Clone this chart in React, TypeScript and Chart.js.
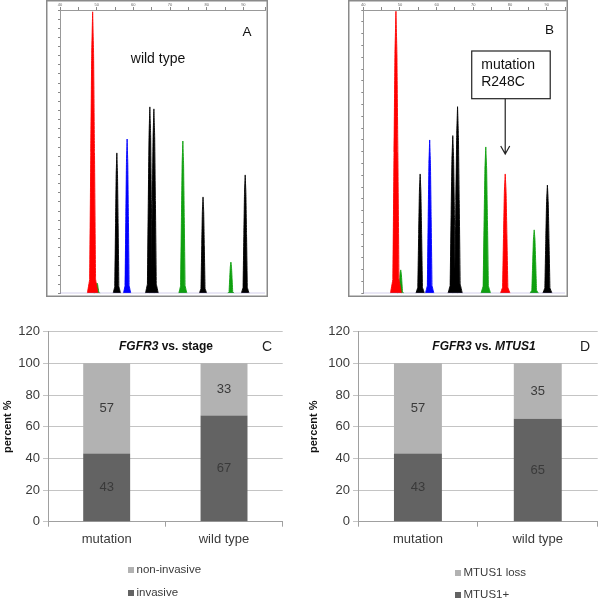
import React, { useEffect, useRef } from "react";
import { Chart, registerables } from "chart.js";

Chart.register(...registerables);

const FONT = "'Liberation Sans', Arial, sans-serif";
Chart.defaults.font.family = FONT;

// ---------- Panel A (wild type electropherogram) ----------
const peakPosA = [48.9, 50.1, 55.5, 58.3, 64.5, 65.6, 73.5, 79.0, 86.6, 90.5];
const peakHeightA = [15600, 570, 7780, 8550, 10330, 10220, 8440, 5340, 1730, 6560];
const peakWidthA = [1.45, 0.9, 1.0, 1.0, 1.2, 1.2, 1.1, 1.0, 0.9, 1.05];
const peakColorA = ["red", "green", "black", "blue", "black", "black", "green", "black", "green", "black"];

// ---------- Panel B (mutation R248C electropherogram) ----------
const peakPosB = [48.9, 50.2, 55.5, 58.1, 64.4, 65.7, 73.4, 78.7, 86.6, 90.2];
const peakHeightB = [11700, 970, 4950, 6360, 6540, 7740, 6070, 4950, 2630, 4490];
const peakWidthB = [1.5, 0.9, 1.15, 1.15, 1.3, 1.3, 1.3, 1.3, 1.15, 1.25];
const peakColorB = ["red", "green", "black", "blue", "black", "black", "green", "red", "green", "black"];
const mutationPeakPos = 78.7;

// ---------- Panels C and D (stacked bars) ----------
const categories = ["mutation", "wild type"];
const invasive = [43, 67];
const nonInvasive = [57, 33];
const mtus1Plus = [43, 65];
const mtus1Loss = [57, 35];

const COLOR_MAP: Record<string, string> = {
  red: "#ff0000",
  green: "#0fa00f",
  black: "#000000",
  blue: "#0000ff",
};
const LIGHT = "#b2b2b2";
const DARK = "#636363";

// peak outline: relative half-width at relative height
const SHAPE_W = [1, 0.55, 0.35, 0.18];
const SHAPE_H = [0, 0.05, 0.5, 0.85];

function peakDatasets(pos: number[], height: number[], width: number[], color: string[], xMax: number) {
  const peaks = pos.map((c, i) => {
    const h = height[i];
    const w = width[i];
    const col = COLOR_MAP[color[i]];
    const left = SHAPE_W.map((sw, k) => ({ x: c - sw * w, y: SHAPE_H[k] * h }));
    const right = SHAPE_W.map((sw, k) => ({ x: c + sw * w, y: SHAPE_H[k] * h })).reverse();
    return {
      data: [...left, { x: c, y: h }, ...right],
      borderColor: col,
      backgroundColor: col,
      borderWidth: 0.9,
      pointRadius: 0,
      fill: "origin",
      tension: 0.0001,
    };
  });
  const baseline = {
    data: [
      { x: 40, y: 0 },
      { x: xMax, y: 0 },
    ],
    borderColor: "rgba(130,120,200,0.7)",
    borderWidth: 1.2,
    pointRadius: 0,
    fill: false,
    tension: 0,
  };
  return [baseline, ...peaks];
}

const framePlugin = {
  id: "frame",
  afterDraw(chart: any) {
    const ctx = chart.ctx;
    ctx.save();
    ctx.strokeStyle = "#8a8a8a";
    ctx.lineWidth = 1.5;
    ctx.strokeRect(0.75, 0.75, chart.width - 1.5, chart.height - 1.5);
    ctx.restore();
  },
};

const annotationPlugin = {
  id: "mutAnnot",
  afterDatasetsDraw(chart: any) {
    const ctx = chart.ctx;
    const xs = chart.scales.x;
    const ax = xs.getPixelForValue(mutationPeakPos);
    const boxL = ax - 33.5;
    const boxR = ax + 45;
    const boxT = 51;
    const boxB = 98.7;
    const tip = 154;
    ctx.save();
    ctx.fillStyle = "#fff";
    ctx.fillRect(boxL, boxT, boxR - boxL, boxB - boxT);
    ctx.strokeStyle = "#222";
    ctx.lineWidth = 1.2;
    ctx.strokeRect(boxL, boxT, boxR - boxL, boxB - boxT);
    ctx.beginPath();
    ctx.moveTo(ax, boxB);
    ctx.lineTo(ax, tip);
    ctx.moveTo(ax - 4.5, tip - 8);
    ctx.lineTo(ax, tip);
    ctx.lineTo(ax + 4.5, tip - 8);
    ctx.stroke();
    ctx.fillStyle = "#111";
    ctx.font = "14px " + FONT;
    ctx.textBaseline = "middle";
    ctx.textAlign = "left";
    ctx.fillText("mutation", boxL + 9.5, 65);
    ctx.fillText("R248C", boxL + 9.5, 82);
    ctx.restore();
  },
};

type EPProps = {
  left: number;
  width: number;
  yAxisWidth: number;
  xMax: number;
  yMax: number;
  pos: number[];
  height: number[];
  widths: number[];
  colors: string[];
  annotate?: boolean;
};

function Electropherogram(p: EPProps) {
  const ref = useRef<HTMLCanvasElement>(null);
  useEffect(() => {
    const plugins: any[] = [framePlugin];
    if (p.annotate) plugins.push(annotationPlugin);
    const chart = new Chart(ref.current!, {
      type: "line",
      data: { datasets: peakDatasets(p.pos, p.height, p.widths, p.colors, p.xMax) as any },
      options: {
        animation: false,
        responsive: false,
        maintainAspectRatio: false,
        layout: { padding: { left: 0, right: 3, top: 0, bottom: 3.7 } },
        plugins: { legend: { display: false }, tooltip: { enabled: false } },
        scales: {
          x: {
            type: "linear",
            position: "top",
            min: 40,
            max: p.xMax,
            afterFit: (s: any) => {
              s.height = 10;
            },
            ticks: {
              stepSize: 5,
              autoSkip: false,
              maxRotation: 0,
              padding: 0,
              font: { size: 4 },
              color: "#666",
              callback: (v: any) => (Number(v) % 10 === 0 ? String(v) : ""),
            },
            grid: { drawOnChartArea: false, tickLength: 3, color: "#888" },
            border: { color: "#999" },
          },
          y: {
            type: "linear",
            min: 0,
            max: p.yMax,
            afterFit: (s: any) => {
              s.width = p.yAxisWidth;
            },
            ticks: {
              stepSize: 500,
              includeBounds: false,
              autoSkip: false,
              padding: 1,
              font: { size: 4 },
              color: "#666",
              callback: (v: any) => (Number(v) % 1000 === 0 && Number(v) > 0 ? String(v) : ""),
            },
            grid: { drawOnChartArea: false, tickLength: 2, color: "#888" },
            border: { color: "#999" },
          },
        },
      },
      plugins,
    });
    return () => chart.destroy();
  }, []);
  return (
    <canvas
      ref={ref}
      width={p.width}
      height={297}
      style={{ position: "absolute", left: p.left, top: 0, width: p.width, height: 297 }}
    />
  );
}

const valueLabelPlugin = {
  id: "valueLabels",
  afterDatasetsDraw(chart: any) {
    const ctx = chart.ctx;
    ctx.save();
    ctx.font = "13px " + FONT;
    ctx.fillStyle = "#3a3a3a";
    ctx.textAlign = "center";
    ctx.textBaseline = "middle";
    chart.data.datasets.forEach((ds: any, di: number) => {
      const meta = chart.getDatasetMeta(di);
      meta.data.forEach((el: any, i: number) => {
        const cy = (el.y + el.base) / 2;
        ctx.fillText(String(ds.data[i]), el.x, cy);
      });
    });
    ctx.restore();
  },
};

type BarProps = {
  left: number;
  yAxisWidth: number;
  padRight: number;
  titlePadTop: number;
  lower: number[];
  upper: number[];
  lowerLabel: string;
  upperLabel: string;
};

function StackedBar(p: BarProps) {
  const ref = useRef<HTMLCanvasElement>(null);
  useEffect(() => {
    const chart = new Chart(ref.current!, {
      type: "bar",
      data: {
        labels: categories,
        datasets: [
          { label: p.lowerLabel, data: p.lower, backgroundColor: DARK, categoryPercentage: 1, barPercentage: 0.4 },
          { label: p.upperLabel, data: p.upper, backgroundColor: LIGHT, categoryPercentage: 1, barPercentage: 0.4 },
        ],
      },
      options: {
        animation: false,
        responsive: false,
        maintainAspectRatio: false,
        layout: { padding: { left: 0, right: p.padRight, top: 21.7, bottom: 49.3 } },
        plugins: { legend: { display: false }, tooltip: { enabled: false } },
        scales: {
          x: {
            stacked: true,
            afterFit: (s: any) => {
              s.height = 30;
            },
            ticks: { font: { size: 13 }, color: "#3a3a3a", padding: 5 },
            grid: { drawOnChartArea: false, tickLength: 5, color: "#a0a0a0", offset: true },
            border: { color: "#a0a0a0" },
          },
          y: {
            stacked: true,
            min: 0,
            max: 120,
            afterFit: (s: any) => {
              s.width = p.yAxisWidth;
            },
            ticks: { stepSize: 20, font: { size: 13 }, color: "#3a3a3a", padding: 3 },
            grid: { color: "#c4c4c4", tickLength: 5 },
            border: { color: "#a0a0a0" },
            title: {
              display: true,
              text: "percent %",
              color: "#111",
              font: { size: 11, weight: "bold" },
              padding: { top: p.titlePadTop, bottom: 0 },
            },
          },
        },
      },
      plugins: [valueLabelPlugin],
    });
    return () => chart.destroy();
  }, []);
  return (
    <canvas
      ref={ref}
      width={300}
      height={291}
      style={{ position: "absolute", left: p.left, top: 310, width: 300, height: 291 }}
    />
  );
}

const textBase: React.CSSProperties = {
  position: "absolute",
  transform: "translate(-50%, -50%)",
  whiteSpace: "nowrap",
  fontFamily: FONT,
  lineHeight: 1,
};

function LegendItem({ x, y, color, label }: { x: number; y: number; color: string; label: string }) {
  return (
    <>
      <div style={{ position: "absolute", left: x, top: y - 3, width: 6, height: 6, background: color }} />
      <div
        style={{
          position: "absolute",
          left: x + 8.5,
          top: y,
          transform: "translateY(-50%)",
          fontFamily: FONT,
          fontSize: 11.5,
          color: "#3a3a3a",
          whiteSpace: "nowrap",
          lineHeight: 1,
        }}
      >
        {label}
      </div>
    </>
  );
}

export default function App() {
  return (
    <div
      style={{
        position: "absolute",
        left: 0,
        top: 0,
        width: 600,
        height: 601,
        background: "#fff",
        overflow: "hidden",
      }}
    >
      <Electropherogram
        left={46}
        width={222}
        yAxisWidth={14}
        xMax={95.9}
        yMax={15700}
        pos={peakPosA}
        height={peakHeightA}
        widths={peakWidthA}
        colors={peakColorA}
      />
      <Electropherogram
        left={348}
        width={220}
        yAxisWidth={15.3}
        xMax={95.0}
        yMax={11750}
        pos={peakPosB}
        height={peakHeightB}
        widths={peakWidthB}
        colors={peakColorB}
        annotate
      />
      <div style={{ ...textBase, left: 158, top: 58, fontSize: 14, color: "#111" }}>wild type</div>
      <div style={{ ...textBase, left: 247, top: 31.5, fontSize: 13.5, color: "#111" }}>A</div>
      <div style={{ ...textBase, left: 549.5, top: 30, fontSize: 13.5, color: "#111" }}>B</div>

      <StackedBar
        left={0}
        yAxisWidth={48}
        padRight={17.3}
        titlePadTop={1.4}
        lower={invasive}
        upper={nonInvasive}
        lowerLabel="invasive"
        upperLabel="non-invasive"
      />
      <StackedBar
        left={300}
        yAxisWidth={58}
        padRight={2.3}
        titlePadTop={7}
        lower={mtus1Plus}
        upper={mtus1Loss}
        lowerLabel="MTUS1+"
        upperLabel="MTUS1 loss"
      />

      <div style={{ ...textBase, left: 166, top: 346, fontSize: 12, fontWeight: "bold", color: "#111" }}>
        <i>FGFR3</i> vs. stage
      </div>
      <div style={{ ...textBase, left: 267, top: 346, fontSize: 14, color: "#222" }}>C</div>
      <div style={{ ...textBase, left: 484, top: 346, fontSize: 12, fontWeight: "bold", color: "#111" }}>
        <i>FGFR3</i> vs. <i>MTUS1</i>
      </div>
      <div style={{ ...textBase, left: 585, top: 346, fontSize: 14, color: "#222" }}>D</div>

      <LegendItem x={128} y={570} color={LIGHT} label="non-invasive" />
      <LegendItem x={128} y={593} color={DARK} label="invasive" />
      <LegendItem x={455} y={573} color={LIGHT} label="MTUS1 loss" />
      <LegendItem x={455} y={595} color={DARK} label="MTUS1+" />
    </div>
  );
}
